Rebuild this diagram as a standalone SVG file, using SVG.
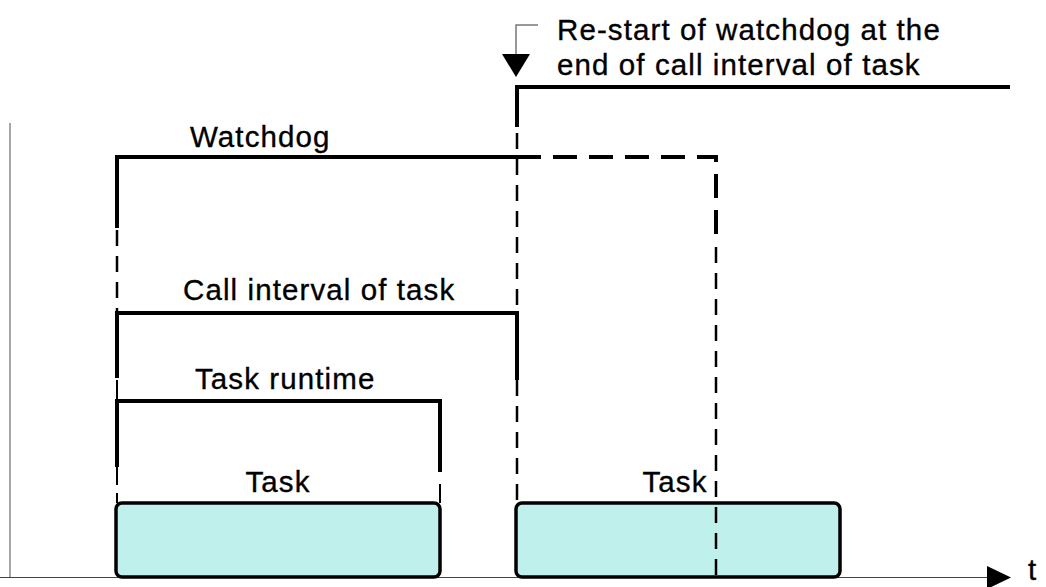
<svg xmlns="http://www.w3.org/2000/svg" width="1046" height="587" viewBox="0 0 1046 587">
<style>
text{font-family:"Liberation Sans",Arial,sans-serif;font-size:29.5px;letter-spacing:1.1px;fill:#000;stroke:#000;stroke-width:0.35}
.thick{stroke:#000;stroke-width:4;fill:none}
.dash{stroke:#000;stroke-width:2.5;fill:none;stroke-dasharray:16 10}
.dashT{stroke:#000;stroke-width:4;fill:none;stroke-dasharray:24 12}
.box{fill:#c0f0ec;stroke:#000;stroke-width:3.5}
</style>
<rect width="1046" height="587" fill="#fff"/>
<g id="axes">
<line x1="10" y1="123" x2="10" y2="578" stroke="#888" stroke-width="1.5"/>
<line x1="0" y1="577.5" x2="990" y2="577.5" stroke="#444" stroke-width="1.2"/>
<polygon points="987,566 1011,577.5 987,589" fill="#000"/>
<text x="1028" y="580" font-size="27px">t</text>
</g>
<g id="task1">
<rect class="box" x="116" y="503" width="324" height="74" rx="6"/>
<text x="278" y="492" text-anchor="middle">Task</text>
</g>
<g id="task2">
<rect class="box" x="516" y="503" width="324" height="74" rx="6"/>
<text x="675" y="492" text-anchor="middle">Task</text>
</g>
<g id="connectors">
<path class="thick" d="M117,228 V157 H517"/>
<path class="dashT" d="M517,157 H716 V240"/>
<path class="dash" d="M716,247 V577"/>
<path class="dash" d="M117,230 V312"/>
<path class="thick" d="M117,378 V313 H517 V380"/>
<line x1="117" y1="380" x2="117" y2="400" stroke="#000" stroke-width="2"/>
<path class="thick" d="M117,467 V401 H440 V472"/>
<line x1="117" y1="467" x2="117" y2="503" stroke="#000" stroke-width="2" stroke-dasharray="18 8"/>
<line x1="440" y1="484" x2="440" y2="503" stroke="#000" stroke-width="2"/>
<path class="thick" d="M1010,87 H517 V127"/>
<path class="dash" d="M517,133 V312"/>
<path class="dash" d="M517,380 V503"/>
<path d="M538,25 H516 V56" fill="none" stroke="#777" stroke-width="1.5"/>
<polygon points="502,54 530,54 516,77" fill="#000"/>
</g>
<g id="labels">
<text x="190" y="147">Watchdog</text>
<text x="183" y="300">Call interval of task</text>
<text x="195" y="389">Task runtime</text>
<text x="557" y="40">Re-start of watchdog at the</text>
<text x="557" y="75">end of call interval of task</text>
</g>
</svg>
